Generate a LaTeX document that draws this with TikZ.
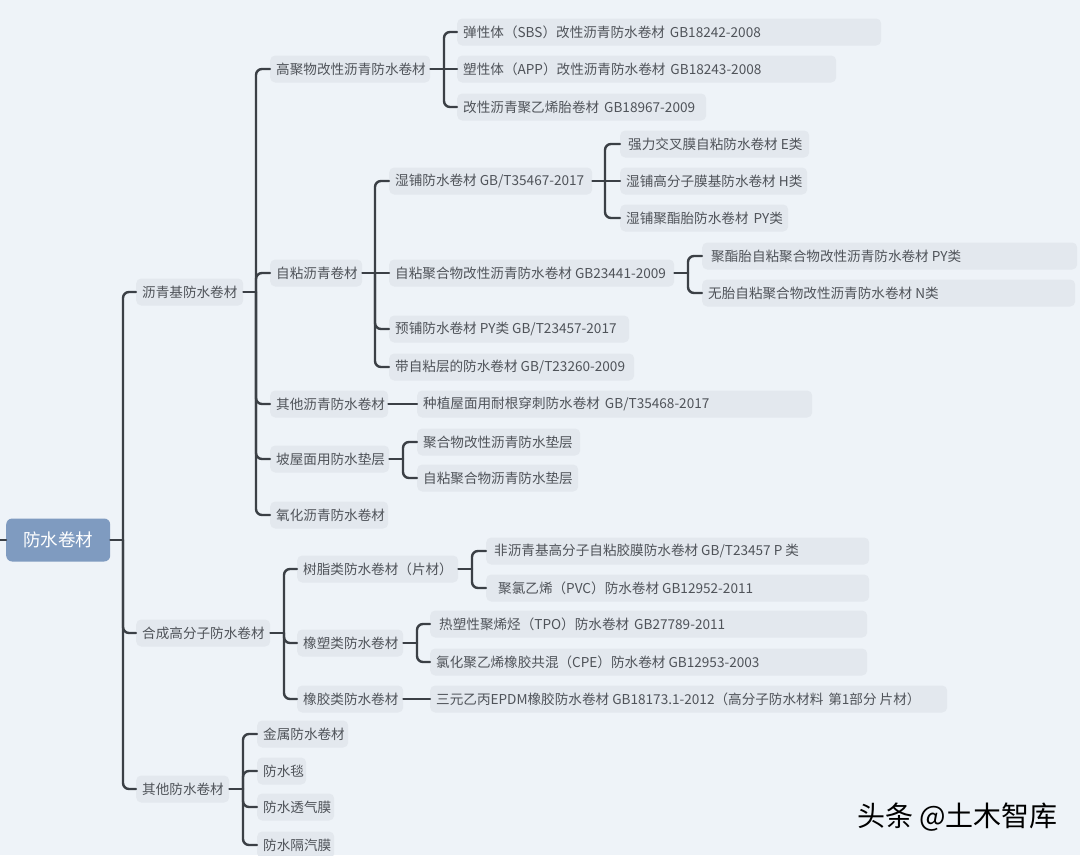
\documentclass[tikz,border=0pt]{standalone}
\usepackage{fontspec}
\setmainfont{Noto Sans CJK SC}
\usetikzlibrary{calc}
\definecolor{bg}{HTML}{EEF3F8}
\definecolor{boxfill}{HTML}{E3E8EE}
\definecolor{txt}{HTML}{4F5359}
\definecolor{edge}{HTML}{3B4046}
\definecolor{rootfill}{HTML}{7F9BC0}
\tikzset{
  item/.style={anchor=west, fill=boxfill, rounded corners=5pt, minimum height=27pt,
    inner xsep=6pt, inner ysep=0pt, text=txt, font=\fontsize{13.6}{16}\selectfont},
  rootbox/.style={anchor=west, fill=rootfill, rounded corners=6pt, minimum height=43pt,
    minimum width=104pt, inner sep=0pt, text=white, font=\fontsize{17.5}{20}\selectfont},
  conn/.style={draw=edge, line width=2.4pt, rounded corners=6pt, line cap=round},
}
\newcommand{\gap}{\hspace{5pt}}
% \itm{name}{left}{right}{y}{text}
\newcommand{\itm}[5]{\pgfmathsetmacro{\tw}{#3-#2-12}\node[item, minimum width=#3pt-#2pt] (#1) at (#2,#4) {\makebox[\tw pt][l]{#5}};}
\begin{document}
\begin{tikzpicture}[x=1pt,y=-1pt]
\fill[bg] (0,0) rectangle (1080,855);
\useasboundingbox (0,0) rectangle (1080,855);

% root
\node[rootbox] (root) at (6,540) {防水卷材};
\coordinate (lstub) at (0,540);

% level 1
\itm{La}{136}{243}{292}{沥青基防水卷材}
\itm{Lb}{136}{270}{633}{合成高分子防水卷材}
\itm{Lc}{136}{229}{789}{其他防水卷材}

% under La
\itm{A1}{270}{430}{69}{高聚物改性沥青防水卷材}
\itm{A2}{270}{362}{273}{自粘沥青卷材}
\itm{A3}{270}{388}{404}{其他沥青防水卷材}
\itm{A4}{270}{389}{459}{坡屋面用防水垫层}
\itm{A5}{270}{388}{515}{氧化沥青防水卷材}

\itm{A1a}{457}{881}{32}{弹性体（SBS）改性沥青防水卷材\gap GB18242-2008}
\itm{A1b}{457}{836}{69}{塑性体（APP）改性沥青防水卷材\gap GB18243-2008}
\itm{A1c}{457}{706}{107}{改性沥青聚乙烯胎卷材\gap GB18967-2009}

\itm{A2a}{389}{592}{181}{湿铺防水卷材 GB/T35467-2017}
\itm{A2b}{389}{674}{273}{自粘聚合物改性沥青防水卷材 GB23441-2009}
\itm{A2c}{389}{629}{329}{预铺防水卷材 PY类 GB/T23457-2017}
\itm{A2d}{389}{634}{367}{带自粘层的防水卷材 GB/T23260-2009}

\itm{A2a1}{620}{809}{144}{\hspace*{2pt}强力交叉膜自粘防水卷材 E类}
\itm{A2a2}{620}{807}{181}{湿铺高分子膜基防水卷材 H类}
\itm{A2a3}{620}{788}{218}{湿铺聚酯胎防水卷材\gap PY类}

\itm{A2b1}{702}{1077}{256}{\hspace*{3pt}聚酯胎自粘聚合物改性沥青防水卷材 PY类}
\itm{A2b2}{702}{1075}{293}{无胎自粘聚合物改性沥青防水卷材 N类}

\itm{A3a}{417}{812}{404}{种植屋面用耐根穿刺防水卷材\gap GB/T35468-2017}

\itm{A4a}{417}{580}{442}{聚合物改性沥青防水垫层}
\itm{A4b}{417}{578}{478}{自粘聚合物沥青防水垫层}

% under Lb
\itm{B1}{297}{458}{569}{树脂类防水卷材（片材）}
\itm{B2}{297}{403}{643}{橡塑类防水卷材}
\itm{B3}{297}{403}{699}{橡胶类防水卷材}

\itm{B1a}{486}{869}{551}{\hspace*{2pt}非沥青基高分子自粘胶膜防水卷材 GB/T23457 P 类}
\itm{B1b}{486}{869}{588}{\hspace*{6pt}聚氯乙烯（PVC）防水卷材 GB12952-2011}
\itm{B2a}{430}{867}{624}{\hspace*{3pt}热塑性聚烯烃（TPO）防水卷材\gap GB27789-2011}
\itm{B2b}{430}{867}{662}{氯化聚乙烯橡胶共混（CPE）防水卷材 GB12953-2003}
\itm{B3a}{430}{947}{699}{三元乙丙EPDM橡胶防水卷材 GB18173.1-2012（高分子防水材料\gap 第1部分 片材）}

% under Lc
\itm{C1}{257}{348}{734}{金属防水卷材}
\itm{C2}{257}{306}{771}{防水毯}
\itm{C3}{257}{334}{807}{防水透气膜}
\itm{C4}{257}{334}{845}{防水隔汽膜}

% spine coordinates
\coordinate (s0) at (123,540);
\coordinate (sLa) at (256,292);
\coordinate (sLb) at (284,633);
\coordinate (sLc) at (243,789);
\coordinate (sA1) at (444,69);
\coordinate (sA2) at (375,273);
\coordinate (sA2a) at (605,181);
\coordinate (sA2b) at (688,273);
\coordinate (sA4) at (403,459);
\coordinate (sB1) at (472,569);
\coordinate (sB2) at (417,643);

% connectors
\draw[conn] (lstub) -- (root.west);
\draw[conn] (root.east) -- (s0);
\foreach \c in {La,Lb,Lc} \draw[conn] (s0) |- (\c.west);

\draw[conn] (La.east) -- (sLa);
\foreach \c in {A1,A2,A3,A4,A5} \draw[conn] (sLa) |- (\c.west);

\draw[conn] (A1.east) -- (A1b.west);
\foreach \c in {A1a,A1c} \draw[conn] (sA1) |- (\c.west);

\draw[conn] (A2.east) -- (sA2);
\draw[conn] (sA2) -- (A2b.west);
\foreach \c in {A2a,A2c,A2d} \draw[conn] (sA2) |- (\c.west);

\draw[conn] (A2a.east) -- (A2a2.west);
\foreach \c in {A2a1,A2a3} \draw[conn] (sA2a) |- (\c.west);

\draw[conn] (A2b.east) -- (sA2b);
\foreach \c in {A2b1,A2b2} \draw[conn] (sA2b) |- (\c.west);

\draw[conn] (A3.east) -- (A3a.west);

\draw[conn] (A4.east) -- (sA4);
\foreach \c in {A4a,A4b} \draw[conn] (sA4) |- (\c.west);

\draw[conn] (Lb.east) -- (sLb);
\foreach \c in {B1,B2,B3} \draw[conn] (sLb) |- (\c.west);

\draw[conn] (B1.east) -- (sB1);
\foreach \c in {B1a,B1b} \draw[conn] (sB1) |- (\c.west);

\draw[conn] (B2.east) -- (sB2);
\foreach \c in {B2a,B2b} \draw[conn] (sB2) |- (\c.west);

\draw[conn] (B3.east) -- (B3a.west);

\draw[conn] (Lc.east) -- (sLc);
\foreach \c in {C1,C2,C3,C4} \draw[conn] (sLc) |- (\c.west);

% watermark
\node[anchor=west, inner sep=0pt, text=black, font=\fontsize{28}{31}\selectfont] (wm) at (857,817) {头条 @土木智库};
\end{tikzpicture}
\end{document}
